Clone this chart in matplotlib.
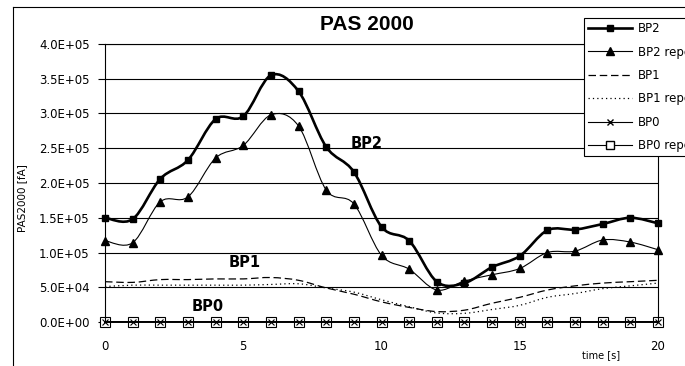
"""PAS 2000 response over time for the BP0/BP1/BP2 runs and their repeats."""

import matplotlib
matplotlib.use("Agg")
import matplotlib.pyplot as plt
from matplotlib.lines import Line2D
from matplotlib.path import Path
from matplotlib.patches import PathPatch
from matplotlib.ticker import FuncFormatter, MultipleLocator
import numpy as np

# Data: PAS2000 signal [fA] sampled once per second
time_s = list(range(21))
bp2 = [150000, 148000, 206000, 233000, 292000, 296000, 355000, 332000, 252000, 216000,
       137000, 117000, 58000, 56000, 79000, 95000, 132000, 133000, 141000, 150000, 142000]
bp2_rep = [117000, 114000, 173000, 180000, 236000, 254000, 298000, 282000, 190000, 170000,
           96000, 76000, 46000, 59000, 68000, 77000, 100000, 102000, 118000, 115000, 104000]
bp1 = [58000, 57000, 61000, 61000, 62000, 62000, 64000, 60000, 49000, 40000,
       29000, 21000, 15000, 17000, 27000, 35500, 46000, 52000, 56000, 58000, 60000]
bp1_rep = [51000, 53000, 53000, 53000, 53000, 53000, 54000, 55000, 49000, 43000,
           32000, 22000, 13000, 12500, 18000, 24000, 35500, 41000, 48000, 52000, 56000]
bp0 = [0] * 21
bp0_rep = [0] * 21

series_labels = ["BP2", "BP2 repeat", "BP1", "BP1 repeat", "BP0", "BP0 repeat"]

W, H = 685, 366


def smooth_path(xs, ys):
    """Bezier path through the points, same tangent rule as spreadsheet smoothed lines."""
    pts = np.column_stack([xs, ys]).astype(float)
    n = len(pts)
    verts = [pts[0]]
    codes = [Path.MOVETO]
    for i in range(n - 1):
        p0 = pts[i - 1] if i > 0 else pts[i]
        p1 = pts[i]
        p2 = pts[i + 1]
        p3 = pts[i + 2] if i + 2 < n else pts[i + 1]
        verts += [p1 + (p2 - p0) / 6, p2 - (p3 - p1) / 6, p2]
        codes += [Path.CURVE4] * 3
    return Path(verts, codes)


def add_curve(ax, xs, ys, **kw):
    patch = PathPatch(smooth_path(xs, ys), fill=False, capstyle="butt",
                      joinstyle="round", **kw)
    ax.add_patch(patch)


fig = plt.figure(figsize=(W / 100, H / 100), dpi=100)
fig.patch.set_facecolor("white")
ax = fig.add_axes([105 / W, 1 - 322 / H, (658 - 105) / W, (322 - 44) / H])
ax.set_facecolor("white")

ax.set_xlim(0, 20)
ax.set_ylim(0, 400000)
ax.xaxis.set_major_locator(MultipleLocator(5))
ax.yaxis.set_major_locator(MultipleLocator(50000))
ax.yaxis.set_major_formatter(FuncFormatter(lambda v, _: f"{v:.1E}"))
ax.tick_params(axis="y", direction="out", length=5, width=0.8, pad=6,
               labelsize=8.5, colors="black")
ax.tick_params(axis="x", length=0, pad=13, labelsize=8.5, colors="black")
ax.set_axisbelow(True)
ax.yaxis.grid(True, color="black", linewidth=0.8)
for side in ("left", "bottom", "right", "top"):
    ax.spines[side].set_linewidth(0.8)
    ax.spines[side].set_color("black")
ax.spines["bottom"].set_linewidth(1.4)

# smoothed lines
add_curve(ax, time_s, bp1, edgecolor="black", linewidth=0.9, linestyle=(0, (6, 3)))
add_curve(ax, time_s, bp1_rep, edgecolor="black", linewidth=0.9, linestyle=(0, (1, 2.5)))
add_curve(ax, time_s, bp2_rep, edgecolor="black", linewidth=0.8)
add_curve(ax, time_s, bp2, edgecolor="black", linewidth=1.9)
add_curve(ax, time_s, bp0, edgecolor="black", linewidth=0.8)
add_curve(ax, time_s, bp0_rep, edgecolor="black", linewidth=0.8)

# markers
ax.plot(time_s, bp2, linestyle="none", marker="s", markersize=5, color="black", clip_on=False)
ax.plot(time_s, bp2_rep, linestyle="none", marker="^", markersize=6, color="black", clip_on=False)
ax.plot(time_s, bp0_rep, linestyle="none", marker="s", markersize=6.5, markerfacecolor="white",
        markeredgecolor="black", markeredgewidth=0.8, clip_on=False)
ax.plot(time_s, bp0, linestyle="none", marker="x", markersize=4.5, color="black",
        markeredgewidth=0.8, clip_on=False)

# curve labels
for txt, xv, yv in [("BP2", 9.48, 257500), ("BP1", 5.06, 85000), ("BP0", 3.73, 22000)]:
    ax.text(xv, yv, txt, ha="center", va="center", fontsize=10.5, fontweight="bold")

fig.text(366.5 / W, 1 - 25 / H, "PAS 2000", ha="center", va="center",
         fontsize=15, fontweight="bold", family="Liberation Sans")
fig.text(22.5 / W, 1 - 198 / H, "PAS2000 [fA]", ha="center", va="center",
         rotation=90, fontsize=7.5)
fig.text(601.5 / W, 1 - 355 / H, "time [s]", ha="center", va="center", fontsize=7)

# chart area border (left and top edges)
fig.add_artist(Line2D([13 / W, 13 / W], [0, 1 - 7 / H], transform=fig.transFigure,
                      color="black", linewidth=0.8))
fig.add_artist(Line2D([13 / W, 1], [1 - 7 / H, 1 - 7 / H], transform=fig.transFigure,
                      color="black", linewidth=0.8))

handles = [
    Line2D([], [], color="black", linewidth=1.9, marker="s", markersize=5),
    Line2D([], [], color="black", linewidth=0.8, marker="^", markersize=6),
    Line2D([], [], color="black", linewidth=0.9, linestyle=(0, (6, 3))),
    Line2D([], [], color="black", linewidth=0.9, linestyle=(0, (1, 2.5))),
    Line2D([], [], color="black", linewidth=0.8, marker="x", markersize=4.5),
    Line2D([], [], color="black", linewidth=0.8, marker="s", markersize=6,
           markerfacecolor="white"),
]
leg = fig.legend(handles, series_labels, loc="upper left",
                 bbox_to_anchor=(584 / W, 1 - 18 / H), bbox_transform=fig.transFigure,
                 borderaxespad=0, fontsize=8.5, handlelength=3.7, handletextpad=0.5,
                 labelspacing=0.88, borderpad=0.35, fancybox=False, framealpha=1,
                 edgecolor="black")
leg.get_frame().set_linewidth(0.8)

fig.savefig("out.png", dpi=100)
